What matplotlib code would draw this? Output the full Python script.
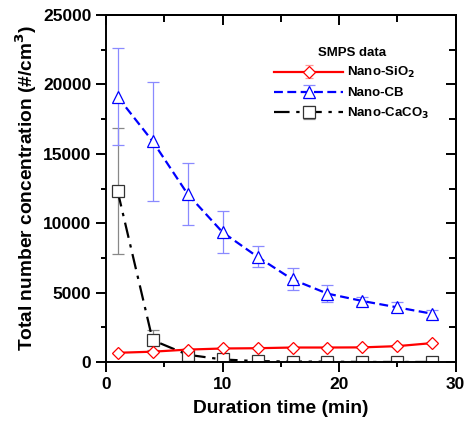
import numpy as np
import matplotlib.pyplot as plt
from matplotlib.ticker import MultipleLocator

# duration time (min)
time = [1, 4, 7, 10, 13, 16, 19, 22, 25, 28]

sio2 = [670, 750, 900, 980, 1000, 1050, 1050, 1060, 1150, 1370]
sio2_err = [60, 60, 60, 60, 60, 60, 60, 60, 60, 60]

cb = [19100, 15900, 12100, 9350, 7580, 5950, 4930, 4400, 3940, 3480]
cb_err = [3500, 4300, 2250, 1500, 760, 790, 630, 320, 360, 290]

caco3 = [12300, 1580, 530, 190, 70, 40, 30, 10, 10, 10]
caco3_err = [4550, 700, 120, 60, 40, 30, 30, 20, 20, 20]

plt.rcParams['font.family'] = ['Liberation Sans', 'DejaVu Sans']
plt.rcParams['font.weight'] = 'bold'
plt.rcParams['axes.labelweight'] = 'bold'

fig = plt.figure(figsize=(4.65, 4.26), dpi=100)
ax = fig.add_axes([0.228, 0.150, 0.752, 0.815])

ax.errorbar(time, sio2, yerr=sio2_err, color='red', lw=1.6, marker='D', ms=6.5,
            mfc='white', mec='red', mew=0.9, ecolor='#ff9999', elinewidth=0.8,
            capsize=3, label='Nano-SiO$_\\mathbf{2}$', zorder=3)
ax.errorbar(time, cb, yerr=cb_err, color='blue', lw=1.6, ls=(0, (4, 2)), marker='^',
            ms=8, mfc='white', mec='blue', mew=0.9, ecolor='#8a8aff', elinewidth=0.9,
            capsize=4, label='Nano-CB', zorder=3)
ax.errorbar(time, caco3, yerr=caco3_err, color='black', lw=1.6, ls=(0, (7, 3, 1.5, 3)),
            marker='s', ms=8, mfc='white', mec='#333333', mew=0.9, ecolor='#888888',
            elinewidth=0.9, capsize=4, label='Nano-CaCO$_\\mathbf{3}$', zorder=2)

ax.set_xlim(0, 30)
ax.set_ylim(0, 25000)
ax.xaxis.set_major_locator(MultipleLocator(10))
ax.xaxis.set_minor_locator(MultipleLocator(5))
ax.yaxis.set_major_locator(MultipleLocator(5000))
ax.yaxis.set_minor_locator(MultipleLocator(2500))
ax.tick_params(which='both', direction='out', width=1.4, labelsize=12.5)
ax.tick_params(which='major', length=7)
ax.tick_params(which='minor', length=3.6)

# mirrored ticks on top/right, pointing inwards
top = ax.secondary_xaxis('top')
top.xaxis.set_major_locator(MultipleLocator(10))
top.xaxis.set_minor_locator(MultipleLocator(5))
top.tick_params(which='both', direction='in', width=1.4, labeltop=False)
top.tick_params(which='major', length=7)
top.tick_params(which='minor', length=5)
right = ax.secondary_yaxis('right')
right.yaxis.set_major_locator(MultipleLocator(5000))
right.yaxis.set_minor_locator(MultipleLocator(2500))
right.tick_params(which='both', direction='in', width=1.4, labelright=False)
right.tick_params(which='major', length=7)
right.tick_params(which='minor', length=5)

for s in ax.spines.values():
    s.set_linewidth(1.4)
top.spines['top'].set_linewidth(1.4)
right.spines['right'].set_linewidth(1.4)

ax.set_xlabel('Duration time (min)', fontsize=13.8, labelpad=6)
ax.set_ylabel('Total number concentration (#/cm$^\\mathbf{3}$)', fontsize=13.8, labelpad=3)

leg = ax.legend(title='SMPS data', loc='upper right', bbox_to_anchor=(0.95, 0.935),
                frameon=False, fontsize=9.5, title_fontproperties={'weight': 'bold', 'size': 9.5},
                handlelength=5.2, handletextpad=0.3, labelspacing=0.5, borderpad=0.2)

fig.savefig('out.png', dpi=100)
